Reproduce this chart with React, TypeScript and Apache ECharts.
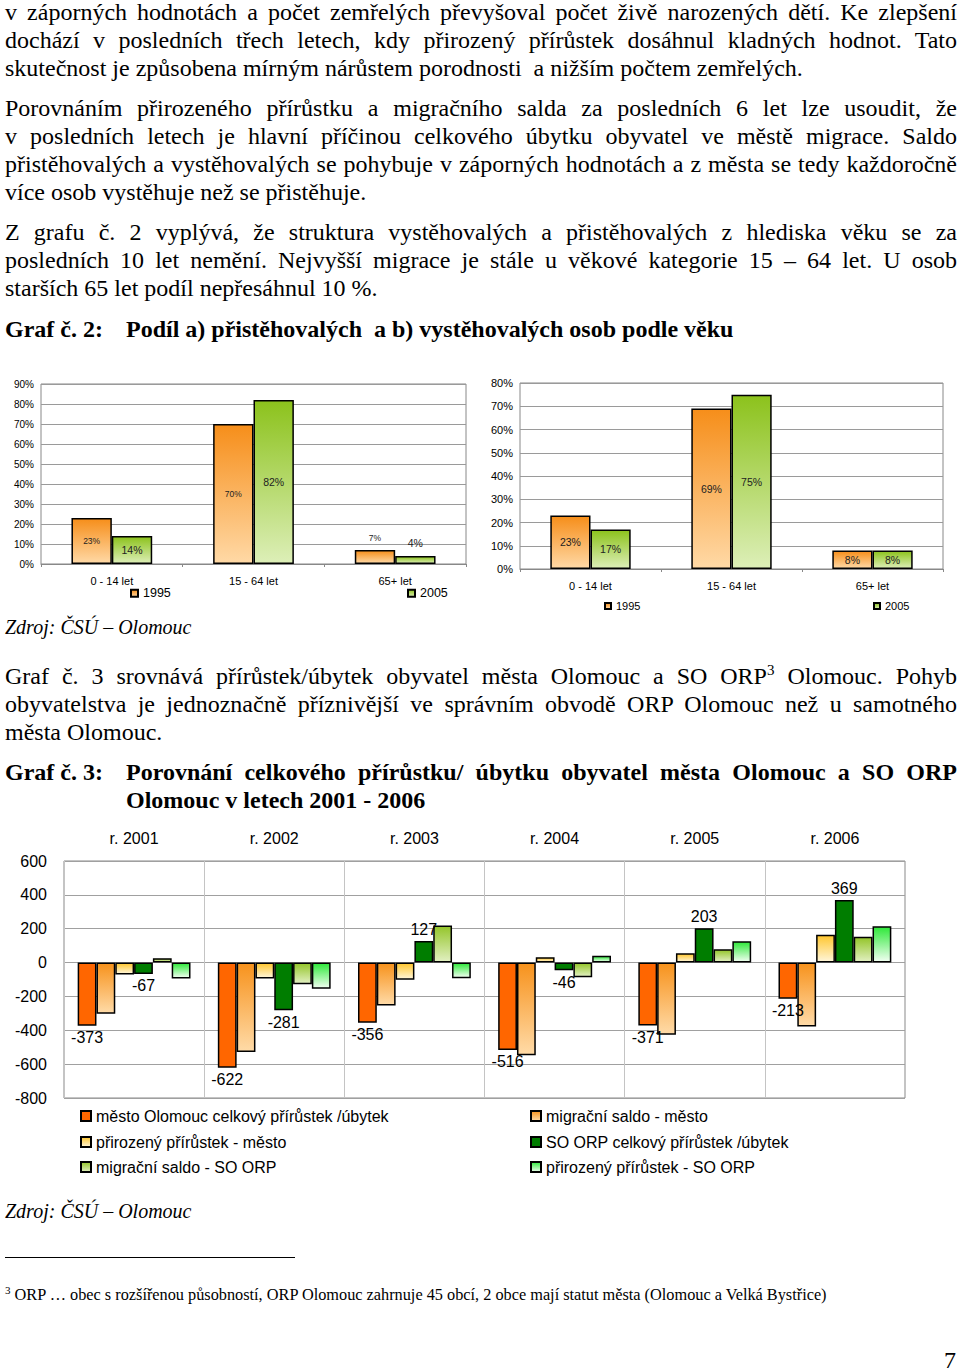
import React, { useEffect, useRef } from "react";
import * as echarts from "echarts";

// ---------- DATA ----------
const AGE_CATS = ["0 - 14 let", "15 - 64 let", "65+ let"];
const IMMIG_1995 = [23, 70, 7];
const IMMIG_2005 = [14, 82, 4];
const EMIG_1995 = [23, 69, 8];
const EMIG_2005 = [17, 75, 8];
const AGE_YEARS = ["1995", "2005"];

const YEARS = ["r. 2001", "r. 2002", "r. 2003", "r. 2004", "r. 2005", "r. 2006"];
const SERIES_NAMES = [
  "město Olomouc celkový přírůstek /úbytek",
  "migrační saldo - město",
  "přirozený přírůstek - město",
  "SO ORP celkový přírůstek /úbytek",
  "migrační saldo - SO ORP",
  "přirozený přírůstek - SO ORP",
];
const CITY_TOTAL = [-373, -622, -356, -516, -371, -213];
const CITY_MIGR = [-303, -528, -254, -548, -426, -378];
const CITY_NAT = [-70, -94, -102, 32, 55, 165];
const ORP_TOTAL = [-67, -281, 127, -46, 203, 369];
const ORP_MIGR = [26, -128, 219, -86, 79, 152];
const ORP_NAT = [-94, -155, -92, 41, 126, 214];

const Y1_TICKS = { min: 0, max: 90, interval: 10 };
const Y2_TICKS = { min: 0, max: 80, interval: 10 };
const Y3_TICKS = { min: -800, max: 600, interval: 200 };

// ---------- STYLE HELPERS ----------
const SANS = '"Liberation Sans", Arial, sans-serif';
const SERIF = '"Liberation Serif", "Times New Roman", serif';

const grad = (top: string, bottom: string) =>
  new echarts.graphic.LinearGradient(0, 0, 0, 1, [
    { offset: 0, color: top },
    { offset: 1, color: bottom },
  ]);

const ORANGE = () => grad("#F68E1A", "#FFD9A6");
const GREEN = () => grad("#8CC21C", "#DDEFB8");

const BAR_BORDER = { borderColor: "#000", borderWidth: 1.5 };

function ageSeries(
  name: string,
  values: number[],
  color: any,
  gridIdx: number,
  fontSize: number,
  smallTop: boolean
) {
  return {
    type: "bar",
    name,
    xAxisIndex: gridIdx,
    yAxisIndex: gridIdx,
    barGap: "0%",
    barCategoryGap: "43%",
    itemStyle: { color, ...BAR_BORDER },
    label: {
      show: true,
      formatter: "{c}%",
      fontFamily: SANS,
      fontSize,
      color: "#222",
    },
    data: values.map((v) => ({
      value: v,
      label: { position: smallTop && v < 7.5 ? "top" : "inside", distance: 8 },
    })),
  };
}

function popSeries(idx: number, values: number[], color: any, withLabels: boolean) {
  return {
    type: "bar",
    name: SERIES_NAMES[idx],
    xAxisIndex: 2,
    yAxisIndex: 2,
    barGap: "0%",
    barCategoryGap: "19.5%",
    itemStyle: { color, ...BAR_BORDER },
    label: {
      show: withLabels,
      fontFamily: SANS,
      fontSize: 16,
      color: "#000",
      distance: 4,
    },
    data: values.map((v) => ({
      value: v,
      label: { position: v < 0 ? "bottom" : "top" },
    })),
  };
}

function buildOption() {
  const pctAxis = (gridIndex: number, t: any, fs: number) => ({
    type: "value",
    gridIndex,
    min: t.min,
    max: t.max,
    interval: t.interval,
    axisLine: { show: false },
    axisTick: { show: false },
    axisLabel: { formatter: "{value}%", fontFamily: SANS, fontSize: fs, color: "#000", margin: 7 },
    splitLine: { lineStyle: { color: "#9a9a9a", width: 1 } },
  });
  const ageX = (gridIndex: number, fs: number) => ({
    type: "category",
    gridIndex,
    data: AGE_CATS,
    axisLine: { lineStyle: { color: "#888" } },
    axisTick: { show: true, length: 3, lineStyle: { color: "#888" } },
    axisLabel: { fontFamily: SANS, fontSize: fs, color: "#000", margin: 11 },
  });

  const legendItem = (name: string, left: number, cy: number, fs: number, size: number) => ({
    data: [name],
    left,
    top: cy - fs / 2 - 1,
    padding: 0,
    itemWidth: size,
    itemHeight: size,
    icon: "rect",
    selectedMode: false,
    textStyle: { fontFamily: SANS, fontSize: fs, color: "#000" },
  });

  const popColors = [
    "#FF6600",
    grad("#F7921C", "#FFDBA8"),
    grad("#FFC62E", "#FFF6DA"),
    "#007D00",
    grad("#94C52A", "#E2F0C2"),
    grad("#2FE83A", "#F2FFF2"),
  ];

  return {
    animation: false,
    backgroundColor: "transparent",
    grid: [
      { left: 41, top: 384, width: 425, height: 180, show: true, borderColor: "#888", borderWidth: 1, outerBoundsMode: "none" },
      { left: 520, top: 383, width: 423, height: 186, show: true, borderColor: "#888", borderWidth: 1, outerBoundsMode: "none" },
      { left: 64, top: 861, width: 841, height: 237, show: true, borderColor: "#888", borderWidth: 1, outerBoundsMode: "none" },
    ],
    xAxis: [
      ageX(0, 11),
      ageX(1, 11),
      {
        type: "category",
        gridIndex: 2,
        position: "top",
        data: YEARS,
        axisLine: { show: false },
        axisTick: { show: false },
        axisLabel: { fontFamily: SANS, fontSize: 16, color: "#000", margin: 15 },
        splitLine: { show: true, lineStyle: { color: "#c4c4c4" } },
      },
    ],
    yAxis: [
      pctAxis(0, Y1_TICKS, 10),
      pctAxis(1, Y2_TICKS, 11),
      {
        type: "value",
        gridIndex: 2,
        min: Y3_TICKS.min,
        max: Y3_TICKS.max,
        interval: Y3_TICKS.interval,
        axisLine: { show: false },
        axisTick: { show: false },
        axisLabel: { fontFamily: SANS, fontSize: 16, color: "#000", margin: 17 },
        splitLine: { lineStyle: { color: "#a0a0a0" } },
      },
    ],
    legend: [
      legendItem(AGE_YEARS[0], 130, 594, 12.5, 7),
      legendItem(AGE_YEARS[1], 407, 594, 12.5, 7),
      legendItem(AGE_YEARS[0], 604, 607, 11, 6),
      legendItem(AGE_YEARS[1], 873, 607, 11, 6),
      legendItem(SERIES_NAMES[0], 80, 1117, 16, 10),
      legendItem(SERIES_NAMES[1], 530, 1117, 16, 10),
      legendItem(SERIES_NAMES[2], 80, 1143, 16, 10),
      legendItem(SERIES_NAMES[3], 530, 1143, 16, 10),
      legendItem(SERIES_NAMES[4], 80, 1168, 16, 10),
      legendItem(SERIES_NAMES[5], 530, 1168, 16, 10),
    ],
    series: [
      ageSeries(AGE_YEARS[0], IMMIG_1995, ORANGE(), 0, 8.5, true),
      ageSeries(AGE_YEARS[1], IMMIG_2005, GREEN(), 0, 10.5, true),
      ageSeries(AGE_YEARS[0], EMIG_1995, ORANGE(), 1, 10.5, false),
      ageSeries(AGE_YEARS[1], EMIG_2005, GREEN(), 1, 10.5, false),
      popSeries(0, CITY_TOTAL, popColors[0], true),
      popSeries(1, CITY_MIGR, popColors[1], false),
      popSeries(2, CITY_NAT, popColors[2], false),
      popSeries(3, ORP_TOTAL, popColors[3], true),
      popSeries(4, ORP_MIGR, popColors[4], false),
      popSeries(5, ORP_NAT, popColors[5], false),
    ],
  };
}

// ---------- TEXT ----------
type LineProps = {
  y: number;
  x?: number;
  w?: number;
  justify?: boolean;
  size?: number;
  lh?: number;
  bold?: boolean;
  italic?: boolean;
  children: React.ReactNode;
};

function Line({ y, x = 5, w = 952, justify = false, size = 24, lh = 28, bold, italic, children }: LineProps) {
  return (
    <div
      style={{
        position: "absolute",
        left: x,
        top: y - lh / 2,
        width: w,
        height: lh,
        lineHeight: lh + "px",
        fontSize: size,
        fontFamily: SERIF,
        fontWeight: bold ? "bold" : "normal",
        fontStyle: italic ? "italic" : "normal",
        textAlign: justify ? "justify" : "left",
        textAlignLast: justify ? "justify" : "left",
        whiteSpace: "nowrap",
        color: "#000",
      }}
    >
      {children}
    </div>
  );
}

const sup: React.CSSProperties = { fontSize: 15, lineHeight: 0, verticalAlign: "super" };

export default function App() {
  const ref = useRef<HTMLDivElement>(null);
  useEffect(() => {
    if (!ref.current) return;
    const chart = echarts.init(ref.current, null, { renderer: "svg" });
    chart.setOption(buildOption() as any);
    return () => chart.dispose();
  }, []);

  return (
    <div style={{ position: "absolute", left: 0, top: 0, width: 960, height: 1372, background: "#fff", overflow: "hidden" }}>
      <div ref={ref} style={{ position: "absolute", left: 0, top: 0, width: 960, height: 1372 }} />

      <Line y={12} justify>v záporných hodnotách a počet zemřelých převyšoval počet živě narozených dětí. Ke zlepšení</Line>
      <Line y={40} justify>dochází v posledních třech letech, kdy přirozený přírůstek dosáhnul kladných hodnot. Tato</Line>
      <Line y={68}>skutečnost je způsobena mírným nárůstem porodnosti{"\u00a0 "}a nižším počtem zemřelých.</Line>

      <Line y={108} justify>Porovnáním přirozeného přírůstku a migračního salda za posledních 6 let lze usoudit, že</Line>
      <Line y={136} justify>v posledních letech je hlavní příčinou celkového úbytku obyvatel ve městě migrace. Saldo</Line>
      <Line y={164} justify>přistěhovalých a vystěhovalých se pohybuje v záporných hodnotách a z města se tedy každoročně</Line>
      <Line y={192}>více osob vystěhuje než se přistěhuje.</Line>

      <Line y={232} justify>Z grafu č. 2 vyplývá, že struktura vystěhovalých a přistěhovalých z hlediska věku se za</Line>
      <Line y={260} justify>posledních 10 let nemění. Nejvyšší migrace je stále u věkové kategorie 15 – 64 let. U osob</Line>
      <Line y={288}>starších 65 let podíl nepřesáhnul 10 %.</Line>

      <Line y={329} bold w={120}>Graf č. 2:</Line>
      <Line y={329} x={126} w={830} bold>Podíl a) přistěhovalých{"\u00a0 "}a b) vystěhovalých osob podle věku</Line>

      <Line y={627} italic size={20}>Zdroj: ČSÚ – Olomouc</Line>

      <Line y={676} justify>
        Graf č. 3 srovnává přírůstek/úbytek obyvatel města Olomouc a SO ORP<span style={sup}>3</span> Olomouc. Pohyb
      </Line>
      <Line y={704} justify>obyvatelstva je jednoznačně příznivější ve správním obvodě ORP Olomouc než u samotného</Line>
      <Line y={732}>města Olomouc.</Line>

      <Line y={772} bold w={120}>Graf č. 3:</Line>
      <Line y={772} x={126} w={831} bold justify>Porovnání celkového přírůstku/ úbytku obyvatel města Olomouc a SO ORP</Line>
      <Line y={800} x={126} w={831} bold>Olomouc v letech 2001 - 2006</Line>

      <Line y={1211} italic size={20}>Zdroj: ČSÚ – Olomouc</Line>

      <div style={{ position: "absolute", left: 5, top: 1257, width: 290, height: 1, background: "#000" }} />

      <Line y={1295} size={16.3} lh={20}>
        <span style={{ fontSize: 11, verticalAlign: "super", lineHeight: 0 }}>3</span> ORP … obec s rozšířenou působností, ORP Olomouc zahrnuje 45 obcí, 2 obce mají statut města (Olomouc a Velká Bystřice)
      </Line>

      <Line y={1360} x={944} w={16} size={24} lh={28}>7</Line>
    </div>
  );
}
